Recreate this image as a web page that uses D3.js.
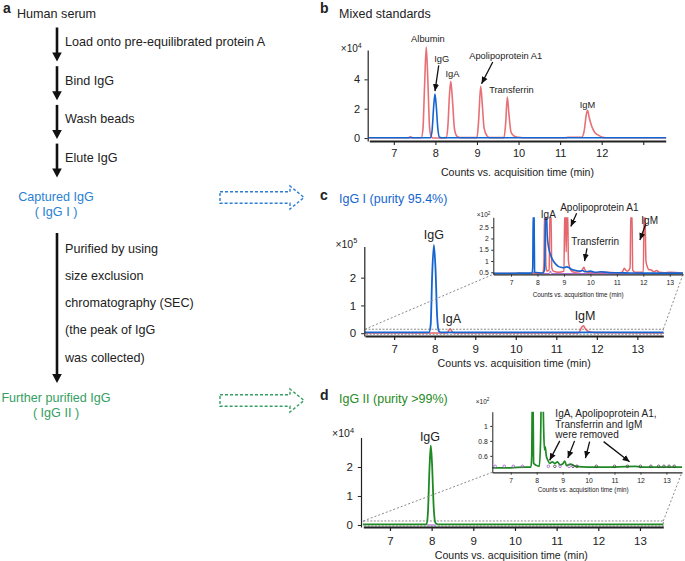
<!DOCTYPE html>
<html><head><meta charset="utf-8">
<script src="https://cdn.jsdelivr.net/npm/d3@7"></script>
<style>
body{margin:0;background:#fff}
svg{display:block}
text{font-family:"Liberation Sans",Arial,Helvetica,sans-serif;fill:#222}
</style>
</head><body>
<svg id="fig" width="685" height="561"></svg>
<script>
// ---------------- DATA ----------------
const flowSteps = ["Load onto pre-equilibrated protein A", "Bind IgG", "Wash beads", "Elute IgG"];
const secSteps = ["Purified by using", "size exclusion", "chromatography (SEC)", "(the peak of IgG", "was collected)"];
const stage1Label = ["Captured IgG", "( IgG I )"];
const stage2Label = ["Further purified IgG", "( IgG II )"];

const timeTicks = [7, 8, 9, 10, 11, 12, 13];
const yTicksB = [0, 2, 4];
const yTicksC = [0, 1, 2];
const yTicksD = [0, 1, 2];
const insetTicksC = [0.5, 1, 1.5, 2, 2.5];
const insetTicksD = [0.6, 0.8, 1];

// b: mixed standards (x10^4)
const stdRed = [[6.4,0.02],[7.35,0.02],[7.4,0.09],[7.45,0.02],[7.66,0.02],[7.7,0.6],[7.74,3.6],[7.78,6.2],[7.82,3.8],[7.86,0.7],[7.9,0.08],[7.95,0.0],[8.1,0.0],[8.26,0.03],[8.3,0.8],[8.34,3.0],[8.37,3.87],[8.41,2.6],[8.46,0.6],[8.52,0.12],[8.6,0.03],[9.0,0.03],[9.04,1.2],[9.09,3.53],[9.13,2.2],[9.17,0.7],[9.24,0.15],[9.3,0.03],[9.65,0.03],[9.69,1.0],[9.73,2.8],[9.77,1.6],[9.82,0.4],[9.9,0.12],[10.0,0.05],[10.1,0.02],[11.1,0.02],[11.2,0.06],[11.4,0.06],[11.52,0.05],[11.58,0.5],[11.63,1.6],[11.66,1.89],[11.7,1.4],[11.76,0.8],[11.83,0.4],[11.92,0.2],[12.0,0.08],[12.1,0.02],[13.55,0.02]];
const stdBlue = [[6.4,0.02],[7.88,0.02],[7.92,0.5],[7.96,2.2],[7.99,3.0],[8.02,2.2],[8.06,0.6],[8.1,0.05],[8.15,0.02],[13.55,0.02]];

// c: IgG I (x10^5)
const igg1Red = [[6.28,0.01],[8.3,0.01],[8.38,0.16],[8.46,0.01],[11.55,0.01],[11.62,0.2],[11.67,0.27],[11.72,0.15],[11.8,0.06],[11.95,0.02],[13.64,0.01]];
const igg1Blue = [[6.28,0.03],[7.86,0.03],[7.9,0.3],[7.94,2.2],[7.98,3.18],[8.02,2.3],[8.06,0.6],[8.1,0.08],[8.15,0.03],[13.64,0.03]];
// c inset (x10^2)
const igg1InsetRed = [[6.33,0.44],[7.2,0.44],[7.3,0.47],[7.5,0.44],[8.2,0.45],[8.24,0.8],[8.27,3.2],[8.29,3.2],[8.32,0.8],[8.36,0.55],[8.44,0.6],[8.47,3.2],[8.51,3.2],[8.54,0.7],[8.6,0.55],[8.8,0.5],[9.0,0.55],[9.03,3.2],[9.06,3.2],[9.085,1.4],[9.11,3.2],[9.14,3.2],[9.17,1.0],[9.25,0.6],[9.4,0.5],[9.6,0.52],[9.7,0.62],[9.75,0.72],[9.8,0.6],[9.9,0.5],[10.2,0.48],[10.6,0.5],[11.0,0.47],[11.2,0.5],[11.28,0.68],[11.33,0.6],[11.4,0.55],[11.5,0.7],[11.53,3.2],[11.57,3.2],[11.6,0.6],[11.7,0.5],[12.0,0.5],[12.03,3.2],[12.06,3.2],[12.1,1.0],[12.15,0.75],[12.2,0.62],[12.3,0.6],[12.4,0.52],[12.5,0.58],[12.6,0.5],[12.8,0.48],[13.0,0.5],[13.5,0.46]];
const igg1InsetBlue = [[6.33,0.45],[7.5,0.46],[7.79,0.46],[7.82,0.7],[7.84,3.2],[7.87,3.2],[7.89,0.5],[8.2,0.47],[8.27,0.6],[8.31,3.2],[8.34,3.2],[8.37,2.1],[8.42,1.6],[8.5,1.25],[8.6,1.0],[8.7,0.85],[8.8,0.75],[8.9,0.72],[9.0,0.7],[9.1,0.74],[9.2,0.7],[9.3,0.62],[9.45,0.58],[9.6,0.55],[9.7,0.58],[9.8,0.52],[10.0,0.55],[10.2,0.5],[10.4,0.52],[10.6,0.5],[10.8,0.48],[11.0,0.48],[11.5,0.47],[12.0,0.46],[13.5,0.46]];
const igg1InsetPurple = [[6.33,0.44],[7.82,0.44],[7.86,0.52],[7.9,0.44],[8.45,0.44],[8.49,0.56],[8.53,0.44],[13.5,0.44]];

// d: IgG II (x10^4)
const igg2Green = [[6.36,0.02],[7.88,0.02],[7.91,0.4],[7.95,2.0],[7.98,2.74],[8.01,2.1],[8.05,0.6],[8.09,0.08],[8.15,0.02],[13.56,0.02]];
const igg2Purple = [[7.9,0.0],[8.1,0.0]];
// d inset (x10^2)
const igg2InsetGreen = [[6.29,0.44],[7.0,0.44],[7.5,0.45],[7.78,0.45],[7.81,0.6],[7.83,1.4],[7.86,1.4],[7.88,0.5],[8.1,0.46],[8.15,0.8],[8.18,1.4],[8.24,1.4],[8.27,0.95],[8.3,0.68],[8.33,0.72],[8.37,0.6],[8.42,0.55],[8.5,0.5],[8.6,0.52],[8.7,0.5],[8.8,0.52],[8.9,0.48],[9.0,0.49],[9.08,0.53],[9.15,0.47],[9.3,0.49],[9.5,0.46],[10.0,0.45],[11.0,0.45],[11.8,0.46],[12.0,0.45],[13.6,0.45]];
const igg2InsetPurpleDots = [6.4, 6.75, 7.1, 7.45, 8.45, 8.9, 9.25];
const igg2InsetBlackDots = [8.7, 9.4, 9.55, 10.3, 11.0, 11.5, 12.0, 12.4, 12.7, 12.9, 13.1, 13.3];
const removedNote = ["IgA, Apolipoprotein A1,", "Transferrin and IgM", "were removed"];

// ---------------- STYLE ----------------
const RED = "#e2575d", BLUE = "#1565d0", GREEN = "#1f8a24", PURPLE = "#a05ad0";
const TXT_BLUE = "#2b7fd4", TXT_GREEN = "#35a062";

const svg = d3.select("#fig");
const defs = svg.append("defs");
defs.append("marker").attr("id","ah").attr("viewBox","0 -4 8 8").attr("refX",8).attr("refY",0)
  .attr("markerWidth",7).attr("markerHeight",7).attr("markerUnits","userSpaceOnUse").attr("orient","auto")
  .append("path").attr("d","M0,-3.5L8,0L0,3.5Z").attr("fill","#111");

function txt(g, x, y, s, size, opt) {
  opt = opt || {};
  return g.append("text").attr("x", x).attr("y", y).text(s)
    .style("font-size", size + "px")
    .attr("text-anchor", opt.anchor || "start")
    .style("font-weight", opt.bold ? "bold" : null)
    .style("fill", opt.fill || "#222");
}

// ---------------- PANEL A ----------------
const ga = svg.append("g");
const FA = 12.6;
txt(ga, 3, 12.5, "a", 14, {bold:true});
txt(ga, 17, 17.5, "Human serum", FA);
function downArrow(x, y0, y1, w) {
  ga.append("line").attr("x1",x).attr("x2",x).attr("y1",y0).attr("y2",y1-8).attr("stroke","#111").attr("stroke-width",w);
  ga.append("path").attr("d",`M${x-4.8},${y1-9}L${x+4.8},${y1-9}L${x},${y1}Z`).attr("fill","#111");
}
flowSteps.forEach((s, i) => {
  const top = 27.5 + i * 38.7;
  downArrow(57, top, top + 34, 2.6);
  txt(ga, 65, top + 18.5, s, FA);
});
stage1Label.forEach((s, i) => txt(ga, 56, 200.5 + i * 15, s, FA, {anchor:"middle", fill:TXT_BLUE}));
downArrow(57, 233, 383, 2.6);
secSteps.forEach((s, i) => txt(ga, 65, 252.5 + i * 27.3, s, FA));
stage2Label.forEach((s, i) => txt(ga, 56, 401.5 + i * 15, s, FA, {anchor:"middle", fill:TXT_GREEN}));
function hollowArrow(cy, color) {
  ga.append("path")
    .attr("d", `M220,${cy-5.8}L290,${cy-5.8}L290,${cy-11.5}L304,${cy}L290,${cy+11.5}L290,${cy+5.8}L220,${cy+5.8}Z`)
    .attr("fill","none").attr("stroke",color).attr("stroke-width",1.4).attr("stroke-dasharray","3,2");
}
hollowArrow(197.5, TXT_BLUE);
hollowArrow(400.5, TXT_GREEN);

// ---------------- CHART HELPERS ----------------
let clipId = 0;
function chart(o) {
  const g = svg.append("g");
  const x = d3.scaleLinear().domain(o.xd).range(o.xr);
  const y = d3.scaleLinear().domain(o.yd).range(o.yr);
  const id = "clip" + (clipId++);
  defs.append("clipPath").attr("id", id).append("rect")
    .attr("x", o.xr[0]).attr("y", o.yr[1]).attr("width", o.xr[1] - o.xr[0]).attr("height", o.yr[0] - o.yr[1]);
  const line = d3.line().x(d => x(d[0])).y(d => y(d[1])).curve(d3.curveMonotoneX);
  if (o.zoomRect) {
    g.append("rect").attr("x", o.xr[0]).attr("y", y(0) - 4).attr("width", o.xr[1] - o.xr[0]).attr("height", 5)
      .attr("fill","none").attr("stroke","#8a8a8a").attr("stroke-width",1).attr("stroke-dasharray","2,1.5");
  }
  o.series.forEach(s => {
    g.append("path").datum(s.data).attr("d", line).attr("fill","none")
      .attr("stroke", s.color).attr("stroke-width", s.w).attr("stroke-linejoin","round")
      .attr("opacity", s.op || 1)
      .attr("clip-path", o.clip ? `url(#${id})` : null);
  });
  const fs = o.fs;
  const xa = g.append("g").attr("transform", `translate(0,${o.yr[0]})`)
    .call(d3.axisBottom(x).tickValues(timeTicks).tickSize(o.tick).tickPadding(o.xpad).tickSizeOuter(0)
      .tickFormat(d => (o.hide13 && d === 13) ? "" : String(d)));
  xa.select(".domain").attr("stroke","#222").attr("stroke-width", o.xw);
  xa.selectAll(".tick line").attr("stroke","#222").attr("stroke-width", o.xw * 0.6);
  xa.selectAll("text").style("font-size", fs + "px").style("fill","#222");
  const ya = g.append("g").attr("transform", `translate(${o.yx},0)`)
    .call(d3.axisLeft(y).tickValues(o.yt).tickSize(o.tick * 0.8).tickPadding(o.ypad).tickSizeOuter(0)
      .tickFormat(d => String(d)));
  ya.select(".domain").attr("stroke","#222").attr("stroke-width", o.yw);
  ya.selectAll(".tick line").attr("stroke","#222");
  ya.selectAll("text").style("font-size", fs + "px").style("fill","#222");
  const ex = g.append("text").attr("x", o.yx - o.exDx).attr("y", o.yr[1] + o.exDy).attr("text-anchor","end")
    .style("font-size", o.exFs + "px");
  ex.append("tspan").text("×10");
  ex.append("tspan").text(o.exp).attr("dy", -o.exFs * 0.4).style("font-size", (o.exFs * 0.7) + "px");
  txt(g, (o.xr[0] + o.xr[1]) / 2 + (o.titleDx || 0), o.yr[0] + o.titleDy, "Counts vs. acquisition time (min)", o.titleFs, {anchor:"middle"});
  return {g, x, y};
}
function annot(c, t, v, s, size, anchor) {
  return txt(c.g, c.x(t), c.y(v), s, size, {anchor: anchor || "middle"});
}
function arrow(c, t0, v0, t1, v1, w) {
  c.g.append("line").attr("x1", c.x(t0)).attr("y1", c.y(v0)).attr("x2", c.x(t1)).attr("y2", c.y(v1))
    .attr("stroke","#111").attr("stroke-width", w || 1.3).attr("marker-end","url(#ah)");
}
function connectors(main, inset) {
  const [a0, a1] = main.x.range();
  const [b0, b1] = inset.x.range();
  const yb = inset.y.range()[0];
  [[a0, b0], [a1, b1]].forEach(([xa, xb]) => {
    main.g.append("line").attr("x1", xa).attr("y1", main.y(0) - 4).attr("x2", xb).attr("y2", yb)
      .attr("stroke","#8a8a8a").attr("stroke-width",1).attr("stroke-dasharray","2,2");
  });
}

// ---------------- PANEL B ----------------
txt(svg, 320, 13, "b", 14, {bold:true});
txt(svg, 339, 18.3, "Mixed standards", 12.5);
const cb = chart({
  xd:[6.41,13.54], xr:[369.3,665.7], yd:[-0.2,6.0], yr:[141,50], yx:367.7,
  yt:yTicksB, fs:11, tick:4, xpad:4.5, ypad:4.5, xw:1.8, yw:1.2, hide13:true,
  exp:"4", exFs:10, exDx:6, exDy:2,
  titleFs:10.6, titleDy:34.5, titleDx:0,
  series:[{data:stdRed, color:RED, w:1.6, op:0.85},{data:stdBlue, color:BLUE, w:1.6}]
});
annot(cb, 7.82, 6.55, "Albumin", 9.3);
annot(cb, 8.15, 5.15, "IgG", 9.3);
arrow(cb, 8.08, 4.95, 7.99, 3.2);
annot(cb, 8.41, 4.13, "IgA", 9.3);
annot(cb, 9.69, 5.42, "Apolipoprotein A1", 9.3);
arrow(cb, 9.38, 5.18, 9.11, 3.7);
annot(cb, 9.83, 3.04, "Transferrin", 9.3);
annot(cb, 11.66, 2.08, "IgM", 9.3);

// ---------------- PANEL C ----------------
txt(svg, 320, 200, "c", 14, {bold:true});
txt(svg, 339, 202.5, "IgG I (purity 95.4%)", 12.5, {fill:BLUE});
const cc = chart({
  xd:[6.28,13.64], xr:[365,663.3], yd:[-0.1,3.12], yr:[336,246.5], yx:364.3,
  yt:yTicksC, fs:11.5, tick:4, xpad:5, ypad:5, xw:2, yw:1.2, zoomRect:true,
  exp:"5", exFs:10.5, exDx:7, exDy:1,
  titleFs:10.6, titleDy:31, titleDx:0,
  series:[{data:igg1Red, color:RED, w:1.6, op:0.9},{data:igg1Blue, color:BLUE, w:1.8}]
});
annot(cc, 7.98, 3.39, "IgG", 12.5);
annot(cc, 8.42, 0.37, "IgA", 12.5);
annot(cc, 11.71, 0.46, "IgM", 12.5);
const ci = chart({
  xd:[6.33,13.5], xr:[493.3,683], yd:[0.41,2.94], yr:[274.3,217.3], yx:493.3,
  yt:insetTicksC, fs:6.8, tick:2.5, xpad:3.5, ypad:2.5, xw:1.3, yw:1, clip:true,
  exp:"2", exFs:6.5, exDx:3, exDy:0,
  titleFs:6.3, titleDy:23, titleDx:-10,
  series:[{data:igg1InsetPurple, color:PURPLE, w:1},{data:igg1InsetRed, color:RED, w:1.5, op:0.9},{data:igg1InsetBlue, color:BLUE, w:1.6}]
});
connectors(cc, ci);
annot(ci, 8.41, 2.89, "IgA", 10);
annot(ci, 10.34, 3.2, "Apolipoprotein A1", 10);
arrow(ci, 9.48, 3.12, 9.26, 2.53);
annot(ci, 10.18, 1.71, "Transferrin", 10);
arrow(ci, 9.87, 1.56, 9.78, 1.0);
annot(ci, 12.24, 2.66, "IgM", 10);
arrow(ci, 12.09, 2.63, 11.87, 1.93);

// ---------------- PANEL D ----------------
txt(svg, 320, 400, "d", 14, {bold:true});
txt(svg, 339, 402.5, "IgG II (purity >99%)", 12.5, {fill:GREEN});
const cd = chart({
  xd:[6.36,13.56], xr:[363.3,663.3], yd:[-0.07,3.02], yr:[527,437.4], yx:361,
  yt:yTicksD, fs:11.5, tick:4, xpad:6, ypad:5, xw:2, yw:1.2, zoomRect:true,
  exp:"4", exFs:10.5, exDx:7, exDy:0,
  titleFs:10.6, titleDy:31.5, titleDx:-2,
  series:[{data:igg2Purple, color:PURPLE, w:1},{data:igg2Green, color:GREEN, w:1.8}]
});
annot(cd, 7.96, 2.88, "IgG", 12.5);
const di = chart({
  xd:[6.29,13.6], xr:[492.3,682], yd:[0.38,1.19], yr:[472.3,411.7], yx:492.3,
  yt:insetTicksD, fs:6.8, tick:2.5, xpad:3.5, ypad:2.5, xw:1.3, yw:1, clip:true,
  exp:"2", exFs:6.5, exDx:3, exDy:-8,
  titleFs:6.3, titleDy:19.5, titleDx:-4,
  series:[{data:igg2InsetGreen, color:GREEN, w:1.7}]
});
connectors(cd, di);
di.g.selectAll("circle.p").data(igg2InsetPurpleDots).join("circle").attr("class","p")
  .attr("cx", d => di.x(d)).attr("cy", di.y(0.46)).attr("r", 1.3).attr("fill","none").attr("stroke",PURPLE).attr("stroke-width",0.8);
di.g.selectAll("circle.k").data(igg2InsetBlackDots).join("circle").attr("class","k")
  .attr("cx", d => di.x(d)).attr("cy", di.y(0.46)).attr("r", 1.3).attr("fill","none").attr("stroke","#444").attr("stroke-width",0.8);
removedNote.forEach((s, i) => annot(di, 8.72, [1.115, 0.975, 0.835][i], s, 10, "start"));
arrow(di, 8.89, 0.80, 8.5, 0.54);
arrow(di, 9.46, 0.80, 9.2, 0.57);
arrow(di, 10.04, 0.79, 9.88, 0.57);
arrow(di, 10.58, 0.79, 11.58, 0.52);
</script>
</body></html>
